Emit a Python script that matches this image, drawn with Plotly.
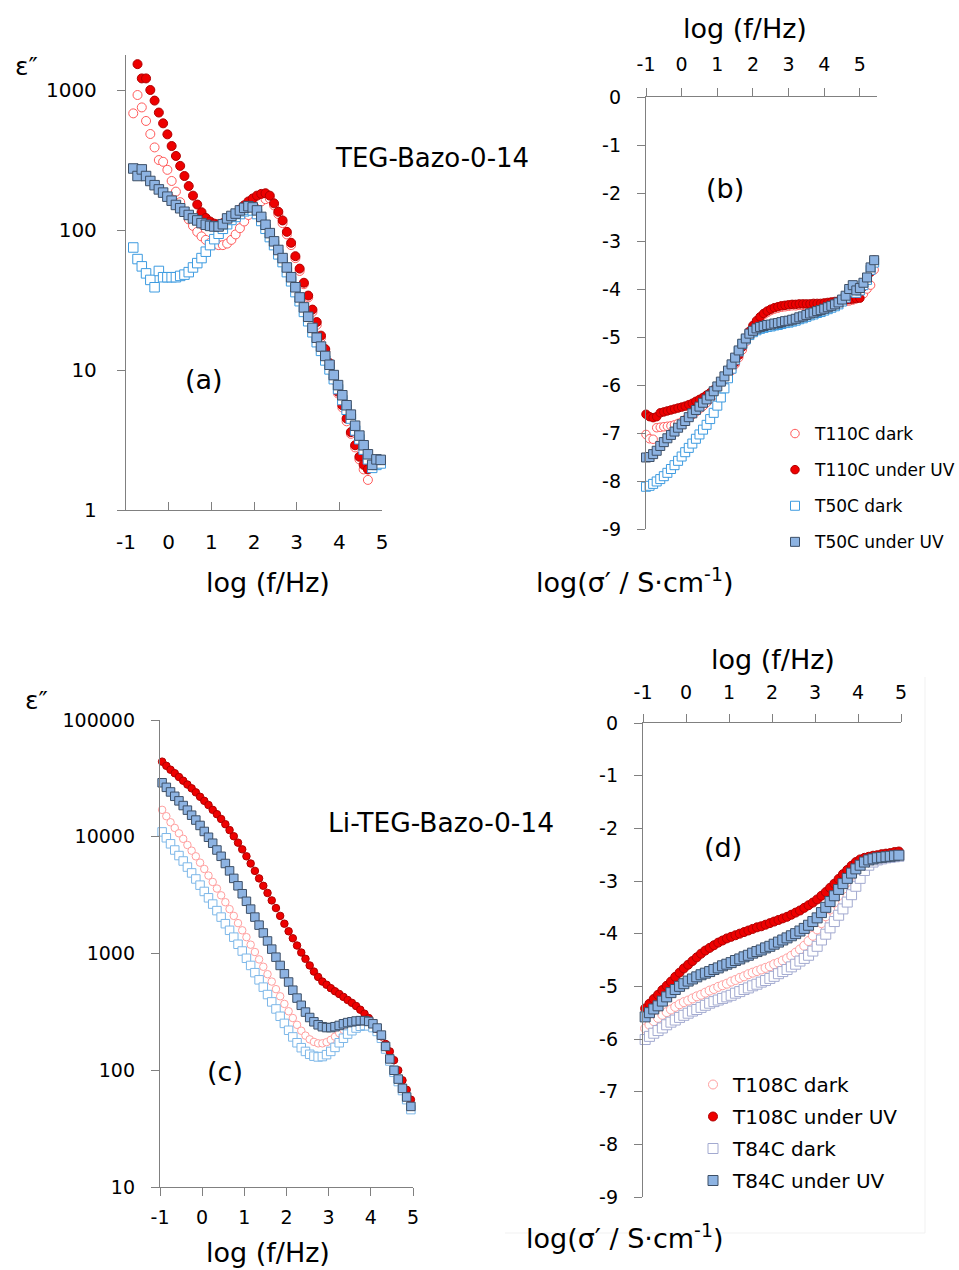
import plotly.graph_objects as go

# ---------------- data ----------------
# Panel (a): TEG-Bazo-0-14, eps'' vs log f
LOGF_A = [-0.83, -0.73, -0.63, -0.53, -0.43, -0.33, -0.23, -0.13, -0.03, 0.07,
          0.17, 0.27, 0.37, 0.47, 0.57, 0.67, 0.77, 0.87, 0.97, 1.07,
          1.17, 1.27, 1.37, 1.47, 1.57, 1.67, 1.77, 1.87, 1.97, 2.07,
          2.17, 2.27, 2.37, 2.47, 2.57, 2.67, 2.77, 2.87, 2.97, 3.07,
          3.17, 3.27, 3.37, 3.47, 3.57, 3.67, 3.77, 3.87, 3.97, 4.07,
          4.17, 4.27, 4.37, 4.47, 4.57, 4.67, 4.77, 4.87, 4.97]
T110C_DARK_A = [681, 921, 751, 601, 485, 389, 316, 307, 269, 224,
                188, 158, 135, 119, 107, 97, 90, 85, 81, 79,
                78, 78, 80, 85, 93, 103, 115, 128, 140, 150,
                160, 166, 168, 150, 130, 112, 93, 78, 63, 51,
                41, 33, 26, 21, 17, 13.6, 10.8, 8.5, 6.8, 5.4,
                4.3, 3.5, 2.8, 2.3, 1.95, 1.64, None, None, None]
T110C_UV_A = [None, 1530, 1210, 1210, 1000, 840, 690, 578, 482, 398,
              338, 287, 243, 206, 176, 152, 134, 122, 115, 111,
              110, 112, 116, 122, 130, 140, 150, 160, 168, 176,
              181, 183, 176, 155, 135, 117, 97, 81, 65, 53,
              42, 34, 27, 22, 17.6, 14.1, 11.2, 8.8, 7.0, 5.6,
              4.5, 3.6, 2.9, 2.4, 2.1, 1.95, None, None, None]
T50C_DARK_A = [75, 62, 55, 49, 44, 39, 51, 46, 46, 46,
               46, 47, 48, 50, 54, 58, 63, 70, 78, 86,
               94, 102, 110, 118, 124, 130, 136, 140, 138, 130,
               116, 102, 89, 78, 67, 59, 50, 43, 36, 31,
               26, 22.3, 18.6, 15.8, 13.7, 11.7, 10.1, 8.6, 7.3, 6.1,
               5.2, 4.5, 3.7, 3.2, 2.7, 2.3, 2.0, 2.1, 2.15]
T50C_UV_A = [275, 243, 271, 243, 224, 209, 195, 185, 173, 162,
             151, 143, 135, 128, 121, 117, 112, 109, 107, 106,
             106, 110, 121, 126, 131, 138, 144, 148, 145, 138,
             124, 109, 95, 83, 72, 63, 54, 46, 39, 33,
             28, 24, 20, 17, 14.7, 12.6, 10.9, 9.2, 7.8, 6.6,
             5.6, 4.8, 4.0, 3.4, 2.9, 2.5, 2.1, 2.3, 2.28]

# Panel (b): TEG-Bazo-0-14, log sigma' vs log f
LOGF_B = [-1.0, -0.9, -0.8, -0.7, -0.6, -0.5, -0.4, -0.3, -0.2, -0.1,
          0.0, 0.1, 0.2, 0.3, 0.4, 0.5, 0.6, 0.7, 0.8, 0.9,
          1.0, 1.1, 1.2, 1.3, 1.4, 1.5, 1.6, 1.7, 1.8, 1.9,
          2.0, 2.1, 2.2, 2.3, 2.4, 2.5, 2.6, 2.7, 2.8, 2.9,
          3.0, 3.1, 3.2, 3.3, 3.4, 3.5, 3.6, 3.7, 3.8, 3.9,
          4.0, 4.1, 4.2, 4.3, 4.4, 4.5, 4.6, 4.7, 4.8, 4.9,
          5.0, 5.1, 5.2, 5.3, 5.4, 5.5]
T110C_DARK_B = [-7.03, -7.12, -7.13, -6.89, -6.88, -6.87, -6.86, -6.85, -6.83, -6.80,
                -6.77, -6.72, -6.67, -6.62, -6.56, -6.50, -6.44, -6.37, -6.29, -6.21,
                -6.12, -6.03, -5.93, -5.82, -5.70, -5.57, -5.43, -5.27, -5.10, -4.94,
                -4.80, -4.69, -4.61, -4.54, -4.49, -4.45, -4.42, -4.40, -4.38, -4.37,
                -4.36, -4.35, -4.35, -4.34, -4.34, -4.34, -4.34, -4.33, -4.33, -4.33,
                -4.32, -4.31, -4.30, -4.29, -4.28, -4.27, -4.26, -4.25, -4.23, -4.20,
                -4.15, -4.10, -4.00, -3.92, -3.60, -3.25]
T110C_UV_B = [-6.61, -6.66, -6.68, -6.66, -6.58, -6.56, -6.54, -6.52, -6.50, -6.48,
              -6.46, -6.44, -6.41, -6.38, -6.34, -6.30, -6.26, -6.21, -6.16, -6.10,
              -6.04, -5.97, -5.89, -5.79, -5.67, -5.53, -5.38, -5.21, -5.04, -4.88,
              -4.76, -4.66, -4.58, -4.51, -4.46, -4.42, -4.39, -4.37, -4.35, -4.34,
              -4.33, -4.32, -4.32, -4.31, -4.31, -4.31, -4.31, -4.30, -4.30, -4.30,
              -4.29, -4.28, -4.27, -4.26, -4.25, -4.24, -4.23, -4.22, -4.21, -4.20,
              -4.19, -3.95, -3.82, -3.65, -3.40, -3.12]
T50C_DARK_B = [-8.12, -8.10, -8.06, -8.01, -7.96, -7.90, -7.83, -7.75, -7.67, -7.58,
               -7.49, -7.40, -7.31, -7.22, -7.12, -7.03, -6.93, -6.83, -6.71, -6.58,
               -6.43, -6.26, -6.07, -5.86, -5.66, -5.47, -5.30, -5.15, -5.05, -4.96,
               -4.90, -4.86, -4.83, -4.81, -4.79, -4.78, -4.76, -4.75, -4.73, -4.71,
               -4.70, -4.68, -4.66, -4.63, -4.61, -4.58, -4.55, -4.53, -4.50, -4.48,
               -4.45, -4.42, -4.39, -4.36, -4.32, -4.26, -4.18, -4.06, -4.00, -4.08,
               -4.03, -3.92, -3.81, -3.60, -3.45, -3.28]
T50C_UV_B = [-7.51, -7.50, -7.44, -7.37, -7.27, -7.19, -7.11, -7.04, -6.97, -6.89,
             -6.82, -6.75, -6.67, -6.59, -6.52, -6.45, -6.37, -6.30, -6.22, -6.13,
             -6.03, -5.93, -5.82, -5.70, -5.57, -5.43, -5.28, -5.14, -5.03, -4.93,
             -4.87, -4.82, -4.79, -4.77, -4.75, -4.74, -4.72, -4.71, -4.69, -4.67,
             -4.66, -4.64, -4.62, -4.59, -4.57, -4.54, -4.51, -4.49, -4.46, -4.44,
             -4.41, -4.38, -4.35, -4.32, -4.28, -4.22, -4.14, -4.00, -3.92, -4.03,
             -3.98, -3.87, -3.76, -3.55, -3.40, -3.23]

# Panels (c) and (d): Li-TEG-Bazo-0-14
LOGF_CD = [-0.95, -0.85, -0.75, -0.65, -0.55, -0.45, -0.35, -0.25, -0.15, -0.05,
           0.05, 0.15, 0.25, 0.35, 0.45, 0.55, 0.65, 0.75, 0.85, 0.95,
           1.05, 1.15, 1.25, 1.35, 1.45, 1.55, 1.65, 1.75, 1.85, 1.95,
           2.05, 2.15, 2.25, 2.35, 2.45, 2.55, 2.65, 2.75, 2.85, 2.95,
           3.05, 3.15, 3.25, 3.35, 3.45, 3.55, 3.65, 3.75, 3.85, 3.95,
           4.05, 4.15, 4.25, 4.35, 4.45, 4.55, 4.65, 4.75, 4.85, 4.95]
T108C_DARK_C = [17000, 15000, 13300, 11900, 10700, 9600, 8500, 7600, 6800, 6000,
                5300, 4650, 4100, 3600, 3150, 2750, 2400, 2100, 1820, 1580,
                1380, 1190, 1030, 890, 770, 665, 575, 495, 430, 370,
                320, 280, 245, 218, 198, 184, 175, 170, 170, 174,
                182, 194, 208, 222, 234, 243, 250, 254, 255, 250,
                238, 218, 190, 155, 122, 98, 82, 68, 57, 47]
T108C_UV_C = [44000, 40500, 37500, 35000, 32500, 30200, 28000, 26000, 24000, 22000,
              20300, 18700, 17000, 15600, 14200, 12800, 11400, 10100, 8900, 7800,
              6800, 5900, 5100, 4400, 3800, 3300, 2850, 2450, 2100, 1800,
              1550, 1350, 1170, 1020, 900, 790, 700, 630, 575, 540,
              505, 475, 450, 425, 400, 378, 355, 330, 305, 280,
              255, 225, 195, 168, 145, 122, 100, 82, 68, 56]
T84C_DARK_C = [11000, 9800, 8700, 7700, 6900, 6200, 5500, 4900, 4350, 3850,
               3400, 3000, 2650, 2330, 2050, 1800, 1580, 1380, 1200, 1050,
               910, 790, 685, 595, 515, 445, 385, 335, 290, 252,
               220, 193, 172, 156, 145, 137, 132, 130, 131, 136,
               145, 157, 172, 188, 204, 218, 230, 238, 242, 240,
               232, 215, 188, 152, 120, 96, 80, 67, 56, 46]
T84C_UV_C = [29000, 26500, 24200, 22200, 20300, 18500, 16900, 15300, 13900, 12500,
             11100, 9900, 8800, 7700, 6800, 5900, 5100, 4400, 3800, 3250,
             2800, 2400, 2050, 1750, 1500, 1280, 1090, 930, 790, 670,
             570, 485, 415, 360, 315, 283, 260, 245, 236, 232,
             232, 236, 242, 250, 256, 260, 264, 266, 266, 262,
             250, 230, 200, 160, 125, 100, 84, 70, 59, 49]

T108C_DARK_D = [-5.80, -5.73, -5.66, -5.60, -5.54, -5.49, -5.44, -5.39, -5.34, -5.30,
                -5.27, -5.23, -5.19, -5.16, -5.12, -5.08, -5.05, -5.01, -4.98, -4.95,
                -4.91, -4.88, -4.84, -4.81, -4.77, -4.74, -4.71, -4.68, -4.65, -4.62,
                -4.58, -4.55, -4.51, -4.47, -4.42, -4.36, -4.30, -4.23, -4.14, -4.04,
                -3.92, -3.80, -3.67, -3.54, -3.41, -3.28, -3.15, -3.02, -2.90, -2.80,
                -2.71, -2.65, -2.61, -2.58, -2.56, -2.55, -2.54, -2.53, -2.52, -2.51]
T108C_UV_D = [-5.42, -5.33, -5.24, -5.16, -5.07, -4.99, -4.91, -4.82, -4.74, -4.66,
              -4.59, -4.52, -4.45, -4.38, -4.32, -4.27, -4.22, -4.17, -4.13, -4.09,
              -4.06, -4.03, -4.00, -3.97, -3.94, -3.91, -3.88, -3.86, -3.83, -3.80,
              -3.77, -3.74, -3.71, -3.68, -3.64, -3.60, -3.56, -3.51, -3.46, -3.41,
              -3.35, -3.28, -3.21, -3.13, -3.05, -2.96, -2.87, -2.79, -2.71, -2.64,
              -2.59, -2.56, -2.54, -2.52, -2.51, -2.49, -2.48, -2.47, -2.45, -2.44]
T84C_DARK_D = [-6.01, -5.95, -5.89, -5.84, -5.79, -5.73, -5.68, -5.64, -5.59, -5.55,
               -5.51, -5.47, -5.44, -5.40, -5.36, -5.32, -5.29, -5.26, -5.23, -5.20,
               -5.17, -5.13, -5.10, -5.06, -5.03, -4.99, -4.96, -4.92, -4.89, -4.85,
               -4.81, -4.76, -4.72, -4.68, -4.63, -4.58, -4.52, -4.47, -4.41, -4.33,
               -4.24, -4.12, -4.01, -3.89, -3.77, -3.65, -3.53, -3.40, -3.26, -3.10,
               -2.95, -2.80, -2.70, -2.64, -2.60, -2.58, -2.56, -2.55, -2.54, -2.53]
T84C_UV_D = [-5.58, -5.50, -5.43, -5.37, -5.28, -5.20, -5.12, -5.06, -5.00, -4.95,
             -4.90, -4.86, -4.82, -4.78, -4.75, -4.72, -4.68, -4.65, -4.61, -4.58,
             -4.55, -4.51, -4.48, -4.44, -4.41, -4.37, -4.34, -4.31, -4.27, -4.24,
             -4.20, -4.16, -4.12, -4.08, -4.04, -4.00, -3.95, -3.90, -3.84, -3.77,
             -3.70, -3.60, -3.50, -3.39, -3.28, -3.16, -3.05, -2.95, -2.85, -2.77,
             -2.70, -2.64, -2.60, -2.58, -2.56, -2.55, -2.54, -2.53, -2.52, -2.51]

TOP_NAMES = ["T110C dark", "T110C under UV", "T50C dark", "T50C under UV"]
BOT_NAMES = ["T108C dark", "T108C under UV", "T84C dark", "T84C under UV"]

# ---------------- styles ----------------
W, H = 959, 1270
FONT = "DejaVu Sans"
AX = "#808080"
TXT = "#000000"

def px(x):
    return x / W

def py(y):
    return 1 - y / H

RED_OPEN = dict(symbol="circle", color="white", line=dict(color="#ff5a5a", width=1))
RED_FILL = dict(symbol="circle", color="#ee0000", line=dict(color="#b00000", width=1))
BLUE_OPEN = dict(symbol="square", color="white", line=dict(color="#3d9be0", width=1))
BLUE_FILL = dict(symbol="square", color="#8db3e2", line=dict(color="#3d4f66", width=1))
PINK_OPEN = dict(symbol="circle", color="white", line=dict(color="#ff9f9f", width=1))
LAV_OPEN = dict(symbol="square", color="white", line=dict(color="#a3aad0", width=1))
LBLUE_OPEN = dict(symbol="square", color="white", line=dict(color="#7db7e8", width=1))

fig = go.Figure()

def add(x, y, name, mk, size, xa, ya, legend=None, show=False):
    m = dict(mk)
    m["size"] = size
    fig.add_trace(go.Scatter(
        x=x, y=y, name=name, mode="markers", marker=m,
        xaxis=xa, yaxis=ya, cliponaxis=False,
        showlegend=show, legend=legend, legendgroup=(legend or "") + name,
    ))

# panel (a)
add(LOGF_A, T110C_DARK_A, TOP_NAMES[0], RED_OPEN, 9, "x", "y")
add(LOGF_A, T110C_UV_A, TOP_NAMES[1], RED_FILL, 9, "x", "y")
add(LOGF_A, T50C_DARK_A, TOP_NAMES[2], BLUE_OPEN, 9.5, "x", "y")
add(LOGF_A, T50C_UV_A, TOP_NAMES[3], BLUE_FILL, 9.5, "x", "y")
# panel (b)
add(LOGF_B, T110C_DARK_B, TOP_NAMES[0], RED_OPEN, 8.5, "x2", "y2", "legend", True)
add(LOGF_B, T110C_UV_B, TOP_NAMES[1], RED_FILL, 8.5, "x2", "y2", "legend", True)
add(LOGF_B, T50C_DARK_B, TOP_NAMES[2], BLUE_OPEN, 9, "x2", "y2", "legend", True)
add(LOGF_B, T50C_UV_B, TOP_NAMES[3], BLUE_FILL, 9, "x2", "y2", "legend", True)
# panel (c)
add(LOGF_CD, T108C_DARK_C, BOT_NAMES[0], PINK_OPEN, 7.5, "x3", "y3")
add(LOGF_CD, T84C_DARK_C, BOT_NAMES[2], LBLUE_OPEN, 8.5, "x3", "y3")
add(LOGF_CD, T108C_UV_C, BOT_NAMES[1], RED_FILL, 7.5, "x3", "y3")
add(LOGF_CD, T84C_UV_C, BOT_NAMES[3], BLUE_FILL, 8.5, "x3", "y3")
# panel (d)
add(LOGF_CD, T108C_DARK_D, BOT_NAMES[0], PINK_OPEN, 9, "x4", "y4", "legend2", True)
add(LOGF_CD, T108C_UV_D, BOT_NAMES[1], RED_FILL, 9, "x4", "y4", "legend2", True)
add(LOGF_CD, T84C_DARK_D, BOT_NAMES[2], LAV_OPEN, 10, "x4", "y4", "legend2", True)
add(LOGF_CD, T84C_UV_D, BOT_NAMES[3], BLUE_FILL, 10, "x4", "y4", "legend2", True)

def axis(size=19, **kw):
    base = dict(showgrid=False, zeroline=False, showline=True, linecolor=AX, linewidth=1.3,
                ticks="outside", tickcolor=AX, tickwidth=1.3, ticklen=8, automargin=False,
                tickfont=dict(family=FONT, size=size, color=TXT))
    base.update(kw)
    return base

XT = [-1, 0, 1, 2, 3, 4, 5]
XL = ["-1", "0", "1", "2", "3", "4", "5"]
YB = [0, -1, -2, -3, -4, -5, -6, -7, -8, -9]

fig.update_layout(
    width=W, height=H, margin=dict(l=0, r=0, t=0, b=0, pad=0, autoexpand=False),
    paper_bgcolor="white", plot_bgcolor="rgba(0,0,0,0)",
    font=dict(family=FONT, color=TXT),
    xaxis=axis(20, domain=[px(126), px(382)], range=[-1, 5], anchor="y",
               tickvals=XT, ticktext=XL, ticks="inside", ticklabelstandoff=14),
    yaxis=axis(20, domain=[py(510), py(55)], type="log", range=[0, 3.25], anchor="x",
               tickvals=[1, 10, 100, 1000], ticktext=["1", "10", "100", "1000"],
               ticklabelstandoff=16),
    xaxis2=axis(19, domain=[px(646), px(877)], range=[-1, 5.48], anchor="y2", side="top",
                tickvals=XT, ticktext=XL, ticklabelstandoff=9),
    yaxis2=axis(19, domain=[py(529), py(97)], range=[-9, 0], anchor="x2",
                tickvals=YB, ticktext=[str(v) for v in YB], ticklabelstandoff=12),
    xaxis3=axis(19, domain=[px(160), px(413)], range=[-1, 5], anchor="y3",
                tickvals=XT, ticktext=XL, ticklabelstandoff=5),
    yaxis3=axis(19, domain=[py(1187), py(720)], type="log", range=[1, 5], anchor="x3",
                tickvals=[10, 100, 1000, 10000, 100000],
                ticktext=["10", "100", "1000", "10000", "100000"], ticklabelstandoff=12),
    xaxis4=axis(19, domain=[px(643), px(901)], range=[-1, 5], anchor="y4", side="top",
                tickvals=XT, ticktext=XL, ticklabelstandoff=7),
    yaxis4=axis(19, domain=[py(1197), py(723)], range=[-9, 0], anchor="x4",
                tickvals=YB, ticktext=[str(v) for v in YB], ticklabelstandoff=12),
    legend=dict(x=px(775), y=py(416), xanchor="left", yanchor="top",
                font=dict(family=FONT, size=17, color=TXT), bgcolor="rgba(0,0,0,0)",
                tracegroupgap=11, itemsizing="trace"),
    legend2=dict(x=px(693), y=py(1065), xanchor="left", yanchor="top",
                 font=dict(family=FONT, size=20, color=TXT), bgcolor="rgba(0,0,0,0)",
                 tracegroupgap=3, itemsizing="trace"),
)

def text(s, X, Y, size, xanchor="center"):
    fig.add_annotation(text=s, x=px(X), y=py(Y), xref="paper", yref="paper",
                       xanchor=xanchor, yanchor="middle", showarrow=False,
                       font=dict(family=FONT, size=size, color=TXT))

text("\u03b5\u2033", 26, 66, 25)
text("\u03b5\u2033", 36, 700, 25)
text("log (f/Hz)", 268, 582, 27)
text("log (f/Hz)", 745, 28, 27)
text("log (f/Hz)", 268, 1252, 27)
text("log (f/Hz)", 773, 659, 27)
text("log(\u03c3\u2032 / S\u00b7cm<sup>-1</sup>)", 634, 580, 27)
text("log(\u03c3\u2032 / S\u00b7cm<sup>-1</sup>)", 624, 1236, 27)
text("TEG-Bazo-0-14", 432, 158, 26)
text("Li-TEG-Bazo-0-14", 441, 822, 26.5)
text("(a)", 204, 379, 27)
text("(b)", 725, 188, 27)
text("(c)", 225, 1071, 27)
text("(d)", 723, 847, 27)

# faint frame edges of the lower-right chart area
fig.add_shape(type="line", xref="paper", yref="paper", x0=px(925), x1=px(925),
              y0=py(677), y1=py(1233), line=dict(color="#f1f1f1", width=1))
fig.add_shape(type="line", xref="paper", yref="paper", x0=px(505), x1=px(925),
              y0=py(1233), y1=py(1233), line=dict(color="#f1f1f1", width=1))

fig.write_html("out.html")
